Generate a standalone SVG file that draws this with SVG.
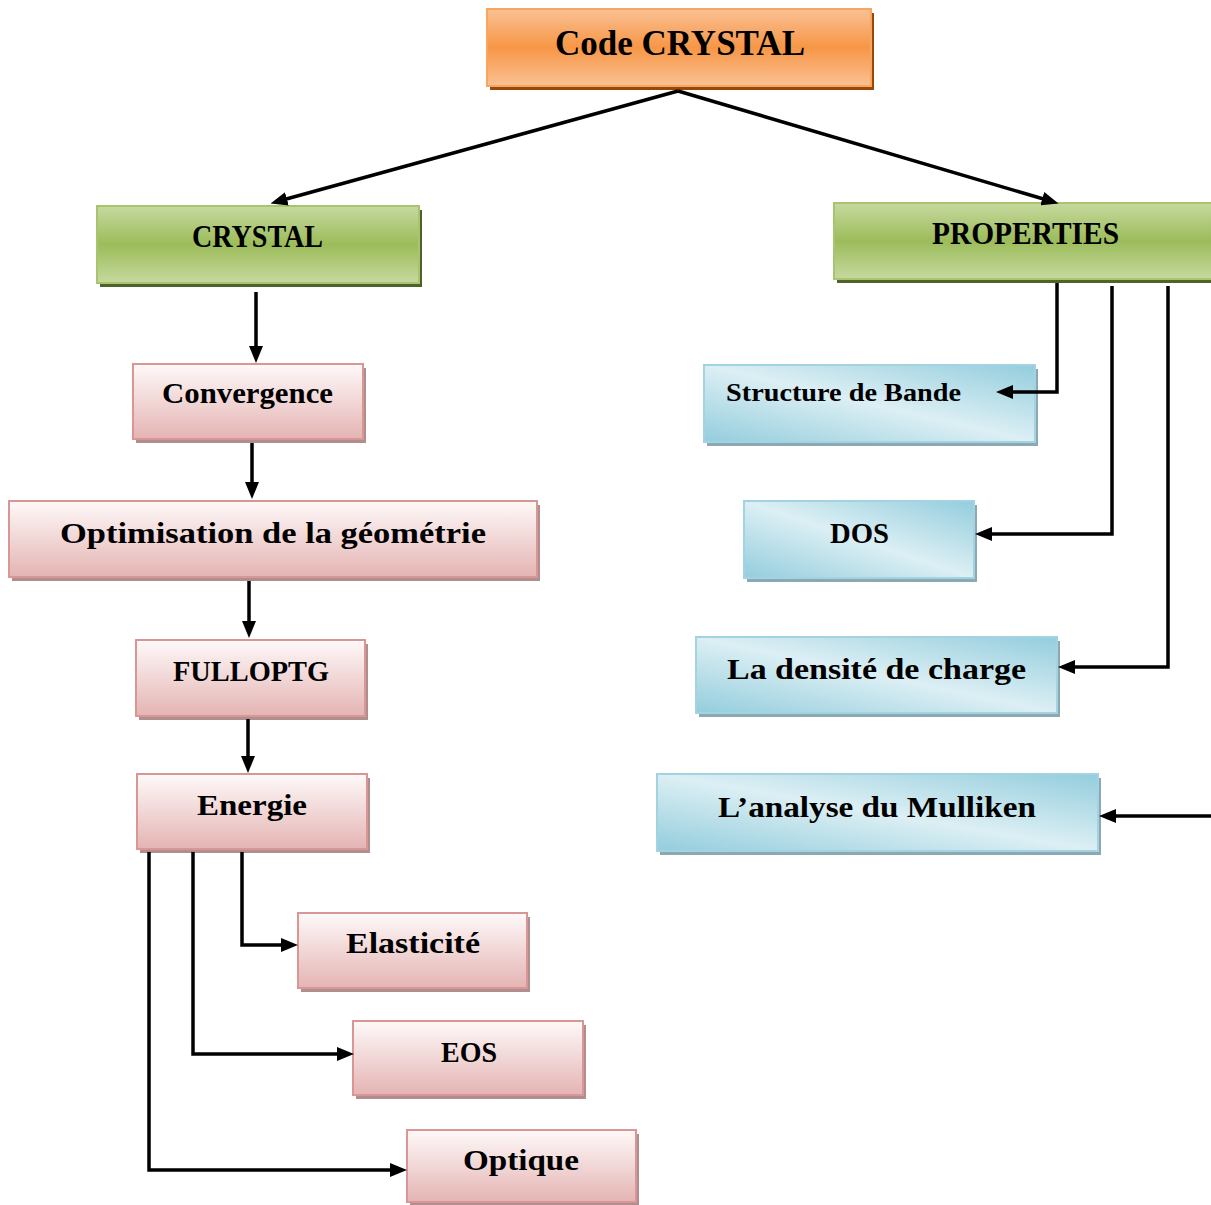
<svg xmlns="http://www.w3.org/2000/svg" width="1211" height="1205" viewBox="0 0 1211 1205">
<style>
text{font-family:"Liberation Serif","Times New Roman",serif;font-weight:bold;fill:#000;text-anchor:middle}
.b{stroke-width:2}
.org{fill:url(#gOrg);stroke:#F8A560}
.grn{fill:url(#gGrn);stroke:#A9C46E}
.pnk{fill:url(#gPnk);stroke:#D99694}
.blu{fill:url(#gBlu);stroke:#A3D3E0}
.sOrg{fill:#984807}
.sGrn{fill:#4F6228}
.sPnk{fill:#AE8E8E}
.sBlu{fill:#8CA8B2}
.c{fill:none;stroke:#000;stroke-width:3.5;marker-end:url(#ah)}
</style>
<defs>
<linearGradient id="gOrg" x1="0" y1="0" x2="0" y2="1">
<stop offset="0" stop-color="#FAC194"/><stop offset="0.5" stop-color="#F79646"/><stop offset="1" stop-color="#FAC194"/>
</linearGradient>
<linearGradient id="gGrn" x1="0" y1="0" x2="0" y2="1">
<stop offset="0" stop-color="#C6D99F"/><stop offset="0.5" stop-color="#9CBC5A"/><stop offset="1" stop-color="#C6D99F"/>
</linearGradient>
<linearGradient id="gPnk" x1="0" y1="0" x2="0" y2="1">
<stop offset="0" stop-color="#FEF9F9"/><stop offset="1" stop-color="#E4B4B3"/>
</linearGradient>
<linearGradient id="gBlu" x1="0" y1="1" x2="1" y2="0">
<stop offset="0" stop-color="#93CDDD"/><stop offset="0.5" stop-color="#DCEFF4"/><stop offset="1" stop-color="#93CDDD"/>
</linearGradient>
<marker id="ah" markerUnits="userSpaceOnUse" markerWidth="17" markerHeight="14" refX="11" refY="7" orient="auto">
<path d="M0,0 L17,7 L0,14 z" fill="#000"/>
</marker>
</defs>

<g id="code-crystal">
<rect class="sOrg" x="490" y="13" width="384" height="77"/>
<rect class="org b" x="487" y="9" width="384" height="77"/>
<text x="680" y="55" font-size="35" textLength="250" lengthAdjust="spacingAndGlyphs">Code CRYSTAL</text>
</g>

<g id="crystal">
<rect class="sGrn" x="100" y="210" width="322" height="77"/>
<rect class="grn b" x="97" y="206" width="322" height="77"/>
<text x="257.5" y="247" font-size="31" textLength="131" lengthAdjust="spacingAndGlyphs">CRYSTAL</text>
</g>

<g id="properties">
<rect class="sGrn" x="837" y="207" width="390" height="76"/>
<rect class="grn b" x="834" y="203" width="390" height="76"/>
<text x="1025.5" y="244" font-size="31" textLength="187" lengthAdjust="spacingAndGlyphs">PROPERTIES</text>
</g>

<g id="convergence">
<rect class="sPnk" x="136" y="368" width="230" height="75"/>
<rect class="pnk b" x="133" y="364" width="230" height="75"/>
<text x="247.5" y="403" font-size="29" textLength="171" lengthAdjust="spacingAndGlyphs">Convergence</text>
</g>

<g id="optimisation">
<rect class="sPnk" x="12" y="505" width="528" height="76"/>
<rect class="pnk b" x="9" y="501" width="528" height="76"/>
<text x="273" y="543" font-size="30" textLength="426" lengthAdjust="spacingAndGlyphs">Optimisation de la géométrie</text>
</g>

<g id="fulloptg">
<rect class="sPnk" x="139" y="644" width="229" height="76"/>
<rect class="pnk b" x="136" y="640" width="229" height="76"/>
<text x="251" y="681" font-size="29" textLength="156" lengthAdjust="spacingAndGlyphs">FULLOPTG</text>
</g>

<g id="energie">
<rect class="sPnk" x="140" y="778" width="230" height="75"/>
<rect class="pnk b" x="137" y="774" width="230" height="75"/>
<text x="252" y="815" font-size="30" textLength="110" lengthAdjust="spacingAndGlyphs">Energie</text>
</g>

<g id="elasticite">
<rect class="sPnk" x="301" y="917" width="229" height="75"/>
<rect class="pnk b" x="298" y="913" width="229" height="75"/>
<text x="413" y="953" font-size="30" textLength="134" lengthAdjust="spacingAndGlyphs">Elasticité</text>
</g>

<g id="eos">
<rect class="sPnk" x="356" y="1025" width="230" height="74"/>
<rect class="pnk b" x="353" y="1021" width="230" height="74"/>
<text x="469" y="1062" font-size="30" textLength="56" lengthAdjust="spacingAndGlyphs">EOS</text>
</g>

<g id="optique">
<rect class="sPnk" x="410" y="1134" width="229" height="72"/>
<rect class="pnk b" x="407" y="1130" width="229" height="72"/>
<text x="521" y="1170" font-size="30" textLength="116" lengthAdjust="spacingAndGlyphs">Optique</text>
</g>

<g id="structure-bande">
<rect class="sBlu" x="707" y="369" width="331" height="77"/>
<rect class="blu b" x="704" y="365" width="331" height="77"/>
<text x="843.5" y="401" font-size="26" textLength="235" lengthAdjust="spacingAndGlyphs">Structure de Bande</text>
</g>

<g id="dos">
<rect class="sBlu" x="747" y="505" width="230" height="77"/>
<rect class="blu b" x="744" y="501" width="230" height="77"/>
<text x="859.5" y="543" font-size="30" textLength="59" lengthAdjust="spacingAndGlyphs">DOS</text>
</g>

<g id="densite-charge">
<rect class="sBlu" x="699" y="641" width="361" height="76"/>
<rect class="blu b" x="696" y="637" width="361" height="76"/>
<text x="876.5" y="679" font-size="30" textLength="299" lengthAdjust="spacingAndGlyphs">La densité de charge</text>
</g>

<g id="mulliken">
<rect class="sBlu" x="660" y="778" width="441" height="77"/>
<rect class="blu b" x="657" y="774" width="441" height="77"/>
<text x="877" y="817" font-size="30" textLength="318" lengthAdjust="spacingAndGlyphs">L’analyse du Mulliken</text>
</g>

<g id="connectors">
<path class="c" d="M678,91 L276.3,201.8"/>
<path class="c" d="M678,91 L1052.8,201.8"/>
<path class="c" d="M256,292 V357"/>
<path class="c" d="M252,443 V493"/>
<path class="c" d="M249,581 V632"/>
<path class="c" d="M248,719 V767"/>
<path class="c" d="M242,852 V945 H292"/>
<path class="c" d="M193,852 V1054 H348"/>
<path class="c" d="M149,852 V1170 H401"/>
<path class="c" d="M1057,283 V392 H1002"/>
<path class="c" d="M1112,286 V534 H981"/>
<path class="c" d="M1168,286 V667 H1064"/>
<path class="c" d="M1213,816 H1105"/>
</g>
</svg>
